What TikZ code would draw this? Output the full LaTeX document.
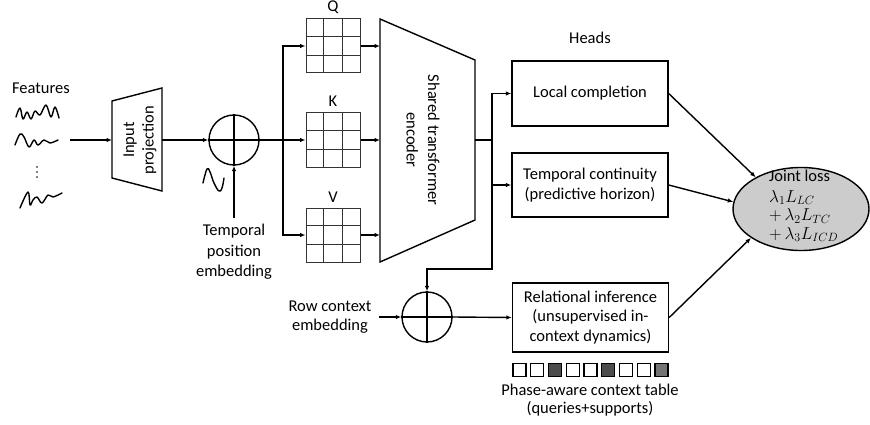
\documentclass[tikz,border=0pt]{standalone}
\usepackage{fontspec}
\setmainfont{Carlito}
\usetikzlibrary{arrows.meta,shapes.geometric,calc}
\newcommand\fs{\fontsize{16.5}{19.5}\selectfont}
\newcommand\mygrid[1]{%
  \foreach \t in {0.3333,0.6667}{%
    \draw[gridl] ($(#1.north west)!\t!(#1.north east)$) -- ($(#1.south west)!\t!(#1.south east)$);
    \draw[gridl] ($(#1.north west)!\t!(#1.south west)$) -- ($(#1.north east)!\t!(#1.south east)$);}}
\begin{document}
\begin{tikzpicture}[x=1pt,y=-1pt,
  every node/.style={font=\fs, inner sep=0pt},
  ln/.style={line width=1.4pt, line join=miter},
  arr/.style={ln, -{Latex[length=5.5pt,width=4.5pt]}},
  headbox/.style={draw, line width=1.4pt, minimum width=156pt, align=center},
  gridbox/.style={draw=black!80, line width=1pt, minimum size=54pt},
  gridl/.style={draw=black!80, line width=0.9pt},
  sumc/.style={circle, draw, line width=1.4pt, minimum size=50pt},
  sq/.style={draw, line width=1.2pt, minimum size=13pt},
  squig/.style={line width=1.4pt, line cap=round, line join=round}]
\useasboundingbox (0,0) rectangle (870,425);

% Features
\node (feat) at (41,88) {Features};
\draw[squig] plot[smooth, tension=0.6] coordinates {(16,117) (20,108) (23,119) (27,112) (31,119) (35,111) (40,115) (46,105) (51,117) (55,107) (59,118)};
\draw[squig] plot[smooth, tension=0.6] coordinates {(15,145) (20,134) (24,137) (29,147) (34,140) (38,145) (44,140) (50,143) (58,140)};
\foreach \yy in {167,172,177} \fill (37,\yy) circle (0.9pt);
\draw[squig] plot[smooth, tension=0.6] coordinates {(20,208) (28,192) (30,205) (33,200) (37,197) (42,203) (48,195) (53,197) (62,193)};
\coordinate (featout) at (70,140);

% Input projection
\draw[ln] (112,101) -- (162,88) -- (162,191) -- (112,178) -- cycle;
\coordinate (ipL) at (112,140);
\coordinate (ipR) at (162,140);
\node[rotate=90, align=center] (ip) at (140,140) {Input\\projection};
\draw[arr] (featout) -- (ipL);

% first sum
\node[sumc] (sum1) at (234,140) {};
\draw[ln] (sum1.north) -- (sum1.south) (sum1.west) -- (sum1.east);
\draw[arr] (ipR) -- (sum1.west);
\draw[squig] plot[smooth, tension=0.7] coordinates {(203,183) (207,169) (210,172) (214,183) (219,191) (222,188) (224,178)};
\node[align=center] (tpe) at (234,252) {Temporal\\[1pt]position\\[1pt]embedding};
\coordinate (tpetop) at (234,218);
\draw[arr] (tpetop) -- (sum1.south);

% Q K V grids
\node[gridbox] (q) at (333,46) {};
\node[gridbox] (k) at (333,140) {};
\node[gridbox] (v) at (333,235) {};
\mygrid{q}\mygrid{k}\mygrid{v}
\node (ql) at (333,7) {Q};
\node (kl) at (333,101) {K};
\node (vl) at (333,197) {V};
\coordinate (br1) at (283,140);
\draw[ln] (sum1.east) -- (br1);
\draw[arr] (br1) |- (q.west);
\draw[arr] (br1) -- (k.west);
\draw[arr] (br1) |- (v.west);

% Encoder
\draw[ln] (380,19) -- (475,60) -- (475,220) -- (380,262) -- cycle;
\coordinate (encL) at (380,140);
\coordinate (encR) at (475,140);
\node[rotate=-90, align=center] (enc) at (423,140) {Shared transformer\\[2pt]encoder};
\draw[arr] (q.east) -- (q.east -| encL);
\draw[arr] (k.east) -- (k.east -| encL);
\draw[arr] (v.east) -- (v.east -| encL);

% Heads
\node (heads) at (590,38) {Heads};
\node[headbox, minimum height=65pt] (lc) at (590,93.5) {Local completion};
\node[headbox, minimum height=64pt] (tc) at (590,185) {Temporal continuity\\(predictive horizon)};
\node[headbox, minimum height=69pt] (ri) at (590.5,317.5) {Relational inference\\(unsupervised in-\\context dynamics)};

\coordinate (br2) at (492,140);
\coordinate (bend) at (492,269);
\draw[ln] (encR) -- (br2);
\draw[arr] (br2) |- (lc.west);
\draw[arr] (br2 |- tc.west) -- (tc.west);
\node[sumc] (sum2) at (427,317) {};
\draw[ln] (sum2.north) -- (sum2.south) (sum2.west) -- (sum2.east);
\draw[arr] (br2) -- (bend) -| (sum2.north);

\node[align=center] (rce) at (330,317) {Row context\\embedding};
\coordinate (rceout) at (379,317);
\draw[arr] (rceout) -- (sum2.west);
\draw[arr] (sum2.east) -- (ri.west);

% context table
\foreach \i/\c in {0/white,1/white,2/black!70,3/white,4/white,5/black!70,6/white,7/white,8/black!55}{
  \node[sq, fill=\c] (s\i) at ({519.5+\i*17.75},370) {};
}
\node (pact) at (590,390) {Phase-aware context table};
\node (qs) at (590,408.5) {(queries+supports)};

% Joint loss
\node[ellipse, draw, line width=1.4pt, fill=black!20, minimum width=136pt, minimum height=83pt] (loss) at (801,209) {};
\node[anchor=north west, align=left] (losst) at (769,170) {Joint loss\\[1pt]$\lambda_1 L_{LC}$\\[-1pt]$+\,\lambda_2 L_{TC}$\\[-1pt]$+\,\lambda_3 L_{ICD}$};
\draw[arr] (lc.east) -- (loss.145);
\draw[arr] (tc.east) -- (loss.174);
\draw[arr] (ri.east) -- (loss.210);
\end{tikzpicture}
\end{document}
